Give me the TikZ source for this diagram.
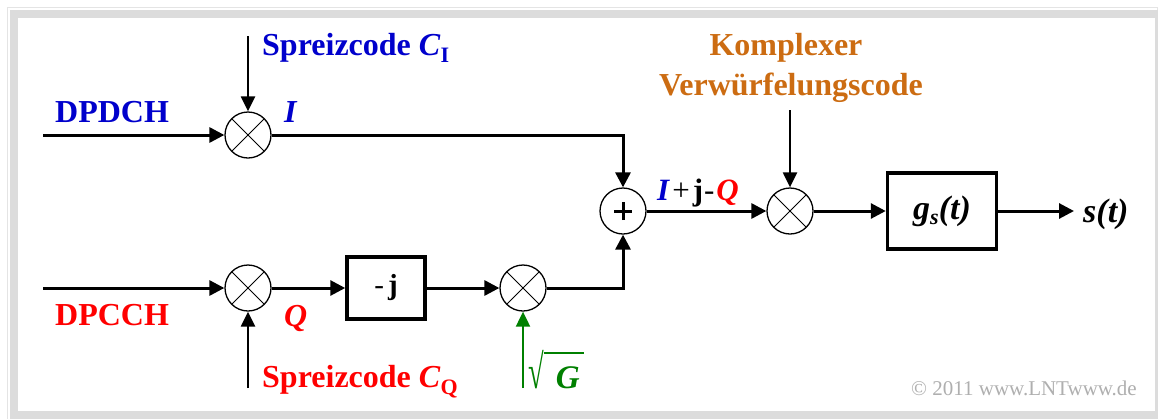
\documentclass[tikz,border=0pt]{standalone}
\usepackage{fontspec}
\usepackage{graphicx}
\setmainfont{Liberation Serif}
\usetikzlibrary{arrows.meta}
\definecolor{lblue}{RGB}{0,0,204}
\definecolor{lred}{RGB}{255,0,0}
\definecolor{lorange}{RGB}{204,108,18}
\definecolor{lgreen}{RGB}{0,128,0}
\definecolor{band}{RGB}{220,220,220}
\definecolor{thinband}{RGB}{228,228,228}
\definecolor{copygray}{RGB}{175,175,175}
\tikzset{
  mult/.style={circle,draw,line width=1.3pt,minimum size=46pt,inner sep=0pt,fill=white,
    path picture={\draw[line width=1pt] (path picture bounding box.south west)--(path picture bounding box.north east)
      (path picture bounding box.north west)--(path picture bounding box.south east);}},
  adder/.style={circle,draw,line width=1.3pt,minimum size=46pt,inner sep=0pt,fill=white,
    path picture={\draw[line width=3pt] ([xshift=-9pt]path picture bounding box.center)--([xshift=9pt]path picture bounding box.center)
      ([yshift=-9pt]path picture bounding box.center)--([yshift=9pt]path picture bounding box.center);}},
  blk/.style={draw,line width=3.5pt,inner sep=0pt,fill=white},
  conn/.style={line width=3pt,-{Triangle[length=15pt,width=15pt]}},
  feed/.style={line width=2.3pt,-{Triangle[length=15pt,width=14pt]}},
  lbl/.style={inner sep=0pt,font=\fontsize{32}{36}\selectfont\bfseries},
}
\begin{document}
\begin{tikzpicture}[x=1pt,y=-1pt]
\useasboundingbox (0,0) rectangle (1158,418);
% frame
\draw[thinband,line width=1pt] (7,7) rectangle (1157,430);
\fill[band] (10,10) rectangle (1170,420);
\fill[white] (18,18) rectangle (1155,411);
% blocks
\node[mult] (m1) at (248,135) {};
\node[mult] (m2) at (248,288) {};
\node[blk,minimum width=78pt,minimum height=62pt] (jb) at (386,288)
  {\fontsize{29}{30}\selectfont{\mdseries -}\hspace{4pt}\textbf{j}};
\node[mult] (m3) at (523,288) {};
\node[adder] (add) at (623,211) {};
\node[mult] (m4) at (790,211) {};
\node[blk,minimum width=109pt,minimum height=76pt] (gb) at (942,211)
  {\fontsize{34}{36}\selectfont\bfseries\itshape g\raisebox{-5pt}{\fontsize{22}{24}\selectfont s}(t)};
% endpoints
\coordinate (in1) at (43,135);
\coordinate (in2) at (43,288);
\coordinate (ci) at (248,36);
\coordinate (cq) at (248,388);
\coordinate (cg) at (523,388);
\coordinate (ck) at (790,110);
\coordinate (out) at (1074,211);
% connectors
\draw[conn] (in1) -- (m1);
\draw[feed] (ci) -- (m1);
\draw[conn] (m1) -| (add);
\draw[conn] (in2) -- (m2);
\draw[feed] (cq) -- (m2);
\draw[conn] (m2) -- (jb);
\draw[conn] (jb) -- (m3);
\draw[feed,lgreen,line width=2pt] (cg) -- (m3);
\draw[conn] (m3) -| (add);
\draw[conn] (add) -- (m4);
\draw[feed] (ck) -- (m4);
\draw[conn] (m4) -- (gb);
\draw[conn] (gb) -- (out);
% labels
\node[lbl,lblue,anchor=base west] (tdp) at (55,122) {DPDCH};
\node[lbl,lred,anchor=base west] (tdc) at (55,325) {DPCCH};
\node[lbl,lblue,anchor=base west] (ti) at (284,122) {\itshape I};
\node[lbl,lred,anchor=base west] (tq) at (284,326) {\itshape Q};
\node[lbl,lblue,anchor=base west] (tci) at (262,55)
  {Spreizcode \textit{C}\raisebox{-7pt}{\fontsize{22}{24}\selectfont I}};
\node[lbl,lred,anchor=base west] (tcq) at (262,387)
  {Spreizcode \textit{C}\raisebox{-7pt}{\fontsize{22}{24}\selectfont Q}};
\node[lbl,lgreen,anchor=base west] (tg) at (528,388)
  {\scalebox{0.75}[1.27]{\fontsize{38}{40}\selectfont\mdseries √}\rlap{\rule[34.4pt]{40pt}{1.6pt}}\hspace{12pt}{\fontsize{33}{36}\selectfont\bfseries\itshape G}};
\node[lbl,lorange,anchor=base] (tk1) at (786,55) {Komplexer};
\node[lbl,lorange,anchor=base] (tk2) at (791,95) {Verwürfelungscode};
\node[inner sep=0pt,anchor=base west,font=\fontsize{31}{33}\selectfont] (tiq) at (657,200)
  {\textcolor{lblue}{\bfseries\itshape I}\hspace{3pt}+\hspace{3pt}\textbf{j}\hspace{1pt}-\hspace{2pt}\textcolor{lred}{\bfseries\itshape Q}};
\node[lbl,anchor=base west,font=\fontsize{34}{36}\selectfont\bfseries\itshape] (ts) at (1083,222) {s(t)};
\node[inner sep=0pt,anchor=base east,copygray,font=\fontsize{21}{24}\selectfont] (tc) at (1137,395)
  {\textcopyright{} 2011 www.LNTwww.de};
\end{tikzpicture}
\end{document}
